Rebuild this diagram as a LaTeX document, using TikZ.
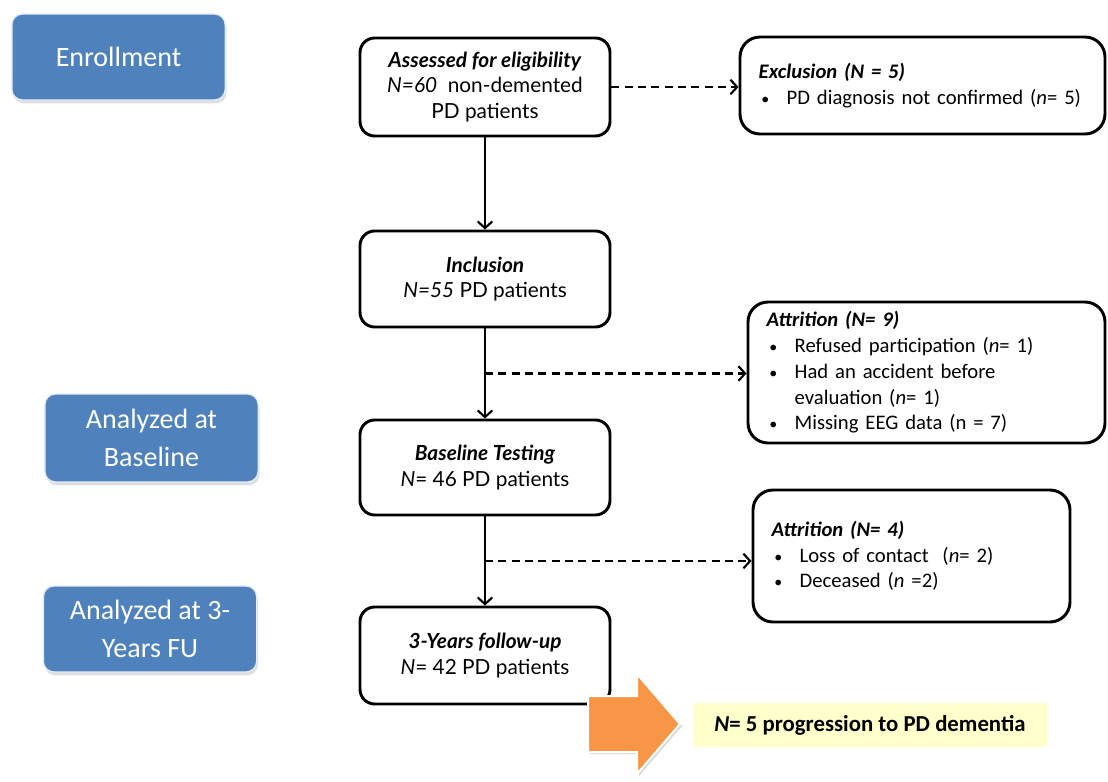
\documentclass[tikz,border=0pt]{standalone}
\usepackage{fontspec}
\setmainfont{Carlito}
\newfontfamily\lato{Lato}
\usetikzlibrary{arrows.meta,shadows,calc}
\definecolor{hdblue}{RGB}{79,129,189}
\definecolor{arrorange}{RGB}{247,150,70}
\definecolor{notey}{RGB}{255,255,204}
\newcommand{\itm}[1]{\makebox[21pt][l]{\hspace*{2pt}\fontsize{12}{12}\selectfont\textbullet}#1}

\begin{document}
\begin{tikzpicture}[x=0.75pt,y=-0.75pt,
  box/.style={draw,line width=2.2pt,rounded corners=11pt,align=center,minimum width=187.5pt,inner sep=0pt,font=\lato\fontsize{15.6}{19.3}\selectfont},
  sidebox/.style={draw,line width=2.2pt,rounded corners=15pt,align=left,inner xsep=14pt,inner ysep=0pt,font=\fontsize{15.5}{19.3}\selectfont},
  stage/.style={fill=hdblue,draw=white!85!hdblue,line width=1pt,rounded corners=8pt,text=white,align=center,minimum width=160pt,font=\fontsize{21}{29}\selectfont,drop shadow={shadow xshift=1pt,shadow yshift=-2.5pt,fill=gray!50}},
  arr/.style={line width=1.6pt,-{Straight Barb[length=5pt,width=11pt]}},
  dsh/.style={arr,dash pattern=on 6pt off 4pt}]
\useasboundingbox (0,0) rectangle (1108,782);

% stages on the left
\node[stage,minimum height=64.5pt] (enrol) at (118.5,57) {Enrollment};
\node[stage,minimum height=66pt] (anabase) at (151.5,438) {Analyzed at\\Baseline};
\node[stage,minimum height=64.5pt] (anafu) at (150,629) {Analyzed at 3-\\Years FU};

% main column
\node[box,minimum height=73.5pt] (assess) at (485,87) {\textbf{\textit{Assessed for eligibility}}\\\textit{N=60}\ \ non-demented\\PD patients};
\node[box,minimum height=72pt] (incl) at (485,279) {\textbf{\textit{Inclusion}}\\\textit{N=55} PD patients};
\node[box,minimum height=71.25pt] (base) at (485,467.5) {\textbf{\textit{Baseline Testing}}\\\textit{N}= 46 PD patients};
\node[box,minimum height=72.75pt] (fu) at (485,655.5) {\textbf{\textit{3-Years follow-up}}\\\textit{N}= 42 PD patients};

% boxes on the right
\node[sidebox,text width=245.75pt,minimum height=72.75pt] (excl) at (922.5,85.5) {\textbf{\textit{Exclusion (N = 5)}}\\\itm{PD diagnosis not confirmed (\textit{n}= 5)}};
\node[sidebox,text width=239.75pt,minimum height=105.75pt] (attr1) at (926.5,372.5) {\textbf{\textit{Attrition (N= 9)}}\\\itm{Refused participation (\textit{n}= 1)}\\\itm{Had an accident before}\\\hspace*{21pt}evaluation (\textit{n}= 1)\\\itm{Missing EEG data (n = 7)}};
\node[sidebox,text width=209.75pt,minimum height=99pt] (attr2) at (911.5,556) {\textbf{\textit{Attrition (N= 4)}}\\\itm{Loss of contact\ \ (\textit{n}= 2)}\\\itm{Deceased (\textit{n} =2)}};

% connectors
\draw[arr] (assess) -- (incl);
\draw[dsh] (assess) -- (assess -| excl.west);
\draw[arr] (incl) -- (base);
\draw[dsh] ($(incl.south)!0.5!(base.north)$) coordinate (b1) -- (b1 -| attr1.west);
\draw[arr] (base) -- (fu);
\draw[dsh] ($(base.south)!0.5!(fu.north)$) coordinate (b2) -- (b2 -| attr2.west);

% outcome
\filldraw[fill=arrorange,draw=white,line width=1.5pt,drop shadow={shadow xshift=1.5pt,shadow yshift=-1.5pt,fill=gray!60}]
  (588,696) -- (637,696) -- (637,674) -- (680,724) -- (637,774) -- (637,752) -- (588,752) -- cycle;
\node[fill=notey,minimum width=265.5pt,minimum height=33pt,font=\bfseries\fontsize{17.1}{19}\selectfont] (result) at (870,725) {\textit{N}= 5 progression to PD dementia};

\end{tikzpicture}
\end{document}
